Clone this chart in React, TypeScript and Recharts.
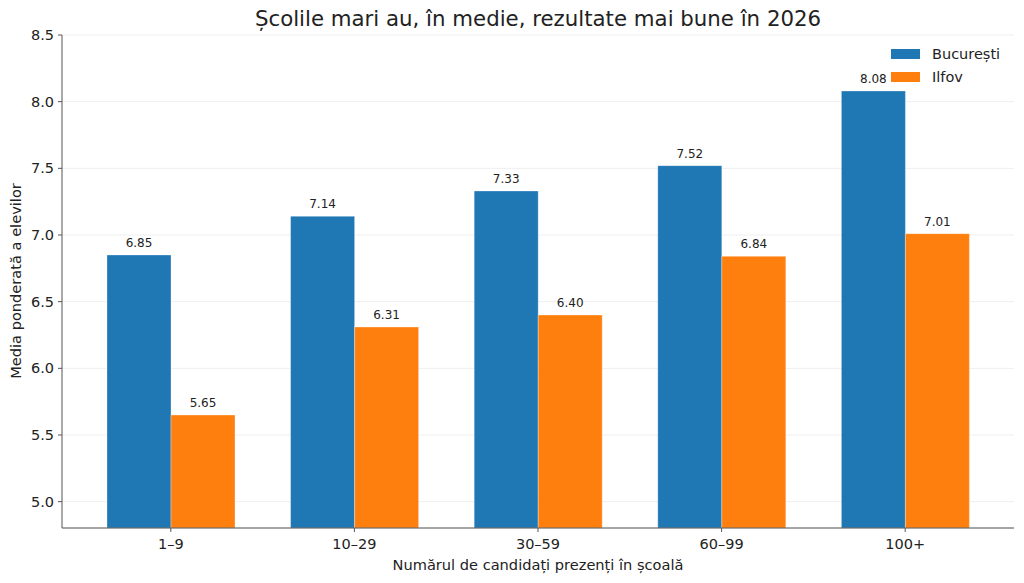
import { BarChart, Bar, XAxis, YAxis, CartesianGrid, LabelList } from 'recharts';

const categories = ['1–9', '10–29', '30–59', '60–99', '100+'];
const bucuresti = [6.85, 7.14, 7.33, 7.52, 8.08];
const ilfov = [5.65, 6.31, 6.4, 6.84, 7.01];
const yTicks = [5.0, 5.5, 6.0, 6.5, 7.0, 7.5, 8.0, 8.5];

const BLUE = '#1f77b4';
const ORANGE = '#ff7f0e';
const AXIS = '#555555';
const TEXT = '#222222';
const FONT = '"DejaVu Sans", Verdana, sans-serif';

const data = categories.map((c, i) => ({ cat: c, buc: bucuresti[i], ilf: ilfov[i] }));

const SERIES = [
  { key: 'buc', name: 'București', color: BLUE },
  { key: 'ilf', name: 'Ilfov', color: ORANGE },
];

function LegendBox() {
  return (
    <div style={{
      position: 'absolute', left: 891, top: 45, display: 'flex', flexDirection: 'column', gap: 5,
      fontFamily: FONT, fontSize: 14.5, color: TEXT,
    }}>
      {SERIES.map((s) => (
        <div key={s.key} style={{ display: 'flex', alignItems: 'center', gap: 12, height: 18 }}>
          <div style={{ width: 29, height: 10, background: s.color }} />
          <span>{s.name}</span>
        </div>
      ))}
    </div>
  );
}

export default function App() {
  return (
    <div style={{ position: 'absolute', left: 0, top: 0, width: 1024, height: 583, background: '#fff', fontFamily: FONT }}>
      {/* title */}
      <div style={{
        position: 'absolute', left: 62, width: 952, top: 5, textAlign: 'center',
        fontSize: 21.3, color: TEXT, lineHeight: '28px',
      }}>
        Școlile mari au, în medie, rezultate mai bune în 2026
      </div>

      <BarChart
        width={1024}
        height={583}
        data={data}
        margin={{ top: 35, right: 10, bottom: 25, left: 0 }}
        barGap={0}
        barSize={64}
      >
        <CartesianGrid vertical={false} stroke="#efefef" strokeWidth={1} />
        <XAxis
          dataKey="cat"
          height={30}
          padding={{ left: 17, right: 17 }}
          stroke={AXIS}
          tickSize={4}
          tickMargin={7}
          tick={{ fill: TEXT, fontSize: 14.5, fontFamily: FONT }}
        />
        <YAxis
          width={62}
          domain={[4.8025, 8.5]}
          ticks={yTicks}
          allowDataOverflow
          stroke={AXIS}
          tickSize={4}
          tickMargin={4}
          tickFormatter={(v: number) => v.toFixed(1)}
          tick={{ fill: TEXT, fontSize: 14.5, fontFamily: FONT }}
        />
        {SERIES.map((s) => (
          <Bar key={s.key} dataKey={s.key} name={s.name} fill={s.color} stroke="#ffffff" strokeOpacity={0.5} strokeWidth={0.6} isAnimationActive={false}>
            <LabelList
              dataKey={s.key}
              position="top"
              offset={8}
              formatter={(v: number) => v.toFixed(2)}
              style={{ fill: TEXT, fontSize: 12, fontFamily: FONT }}
            />
          </Bar>
        ))}
      </BarChart>

      <LegendBox />

      {/* axis titles */}
      <div style={{
        position: 'absolute', left: 62, width: 952, top: 555, textAlign: 'center',
        fontSize: 14.6, color: TEXT, lineHeight: '20px',
      }}>
        Numărul de candidați prezenți în școală
      </div>
      <div style={{
        position: 'absolute', left: 16, top: 281, width: 300, marginLeft: -150, textAlign: 'center',
        fontSize: 14.6, color: TEXT, lineHeight: '20px', transform: 'translateY(-10px) rotate(-90deg)',
      }}>
        Media ponderată a elevilor
      </div>
    </div>
  );
}
